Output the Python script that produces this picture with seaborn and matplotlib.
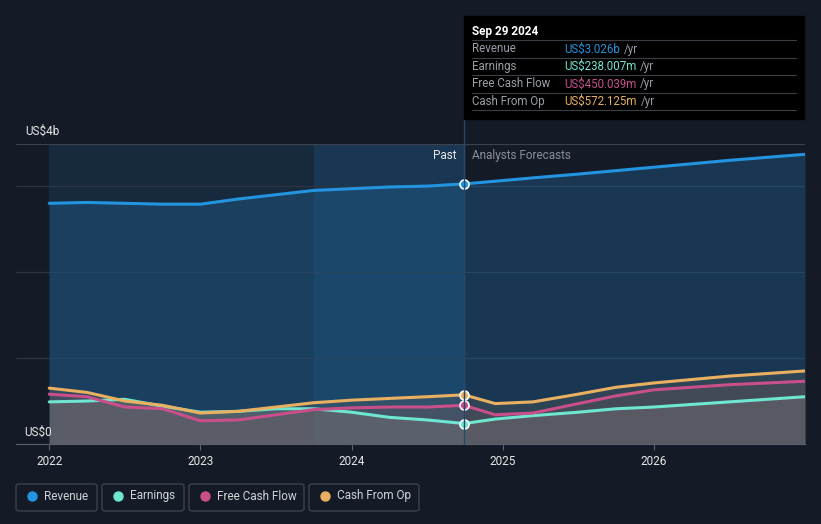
import numpy as np
import pandas as pd
import seaborn as sns
import matplotlib.pyplot as plt
from matplotlib.patches import FancyBboxPatch

# data (US$ billions)
past_x = [2022.0, 2022.25, 2022.5, 2022.75, 2023.0, 2023.25, 2023.5, 2023.75, 2024.0, 2024.25, 2024.5, 2024.745]
fc_x = [2024.745, 2024.95, 2025.2, 2025.5, 2025.75, 2026.0, 2026.5, 2027.0]

revenue_past = [2.80, 2.81, 2.80, 2.79, 2.79, 2.85, 2.90, 2.95, 2.97, 2.99, 3.00, 3.026]
earnings_past = [0.49, 0.50, 0.52, 0.44, 0.37, 0.38, 0.41, 0.41, 0.37, 0.31, 0.28, 0.238]
fcf_past = [0.58, 0.55, 0.43, 0.41, 0.27, 0.28, 0.34, 0.40, 0.42, 0.43, 0.43, 0.450]
cfo_past = [0.65, 0.60, 0.50, 0.45, 0.36, 0.38, 0.43, 0.48, 0.51, 0.53, 0.55, 0.572]

revenue_fc = [3.026, 3.057, 3.096, 3.14, 3.18, 3.22, 3.30, 3.37]
earnings_fc = [0.238, 0.29, 0.33, 0.37, 0.41, 0.43, 0.49, 0.55]
fcf_fc = [0.450, 0.34, 0.36, 0.47, 0.56, 0.63, 0.69, 0.73]
cfo_fc = [0.572, 0.47, 0.49, 0.58, 0.66, 0.71, 0.79, 0.85]

series = ["Revenue", "Earnings", "Free Cash Flow", "Cash From Op"]
colors = ["#2394df", "#6ee6d0", "#c94f8a", "#e8b060"]
tooltip_vals = ["US$3.026b", "US$238.007m", "US$450.039m", "US$572.125m"]
year_ticks = [2022, 2023, 2024, 2025, 2026]

bg = "#151b26"
rows = []
for name, p, f in zip(series, [revenue_past, earnings_past, fcf_past, cfo_past],
                      [revenue_fc, earnings_fc, fcf_fc, cfo_fc]):
    for x, v in zip(past_x + fc_x[1:], p + f[1:]):
        rows.append({"year": x, "value": v, "series": name})
df = pd.DataFrame(rows)

sns.set_style("dark")
plt.rcParams['font.family'] = ['Roboto', 'DejaVu Sans']
fig = plt.figure(figsize=(8.21, 5.24), dpi=100, facecolor=bg)
W, H = 821, 524
ax = fig.add_axes([16 / W, 80 / H, 789 / W, 300 / H])
ax.set_facecolor(bg)
x0, x1 = 2021.78, 2027.0
ymax = 3.49
ax.set_xlim(x0, x1)
ax.set_ylim(0, ymax)
cut = 2024.745

# past / highlight shading
ax.axvspan(2022.0, cut, color="#1a3550", alpha=0.55, lw=0, zorder=0)
ax.axvspan(2023.75, cut, color="#1c4a70", alpha=0.45, lw=0, zorder=0)
for g in [1, 2, 3]:
    ax.axhline(g, color="#2d3542", lw=0.9, zorder=1)
ax.axhline(ymax, color="#3a414d", lw=0.9, zorder=1)
ax.axvline(cut, color="#24486a", lw=1, zorder=1)

fills = {"Revenue": ("#1e5b8a", 0.45), "Earnings": ("#8a8a8a", 0.35),
         "Free Cash Flow": ("#7a5060", 0.25), "Cash From Op": ("#8a7a60", 0.2)}
for name, c in zip(series, colors):
    d = df[df.series == name]
    fc, a = fills[name]
    ax.fill_between(d.year, 0, d.value, color=fc, alpha=a, lw=0, zorder=2)

sns.lineplot(data=df, x="year", y="value", hue="series", palette=colors,
             hue_order=series, lw=2.2, legend=False, ax=ax, zorder=4)

for p, c in zip([revenue_past, earnings_past, fcf_past, cfo_past], colors):
    ax.scatter([cut], [p[-1]], s=42, color=c, edgecolor="white", linewidth=1.2, zorder=6)

ax.set_xticks(year_ticks)
ax.set_xticklabels([str(y) for y in year_ticks], color="#e6e6e6", fontsize=8.5)
ax.tick_params(axis="x", length=4, color="#5a6070", pad=4, bottom=True)
ax.set_yticks([])
ax.set_xlabel("")
ax.set_ylabel("")
for s in ["top", "right", "left"]:
    ax.spines[s].set_visible(False)
ax.spines["bottom"].set_color("#5a6070")
ax.spines["bottom"].set_visible(True)

fig.text(25 / W, 1 - 131 / H, "US$4b", color="#e6e6e6", fontsize=8.5, va="center")
fig.text(24 / W, 1 - 432 / H, "US$0", color="#e6e6e6", fontsize=8.5, va="center")
fig.text(456 / W, 1 - 156 / H, "Past", color="#e6e6e6", fontsize=8.5, ha="right", va="center")
fig.text(472 / W, 1 - 156 / H, "Analysts Forecasts", color="#8a8f99", fontsize=8.5, va="center")

# tooltip
fig.patches.append(plt.Rectangle((464 / W, 1 - 119 / H), 340 / W, 103 / H,
                                 transform=fig.transFigure, color="black", zorder=5))
fig.lines.append(plt.Line2D([464 / W, 464 / W], [1 - 444 / H, 1 - 119 / H],
                            transform=fig.transFigure, color="#24486a", lw=1))
fig.text(472 / W, 1 - 31 / H, "Sep 29 2024", color="white", fontsize=8.5,
         fontweight="bold", va="center", zorder=6)
for i, (name, c, v) in enumerate(zip(series, colors, tooltip_vals)):
    yy = 49 + i * 17.5
    fig.lines.append(plt.Line2D([472 / W, 796 / W], [1 - (yy - 9) / H] * 2,
                                transform=fig.transFigure, color="#3a3f47", lw=0.8, zorder=6))
    fig.text(472 / W, 1 - yy / H, name, color="#9a9ea6", fontsize=8.3, va="center", zorder=6)
    t = fig.text(564 / W, 1 - yy / H, v, color=c, fontsize=8.3, va="center", zorder=6)
    fig.canvas.draw()
    bb = t.get_window_extent()
    fig.text((bb.x1 + 4) / W, 1 - yy / H, "/yr", color="#9a9ea6", fontsize=8.3, va="center", zorder=6)
fig.lines.append(plt.Line2D([472 / W, 796 / W], [1 - 110 / H] * 2,
                            transform=fig.transFigure, color="#3a3f47", lw=0.8, zorder=6))

# legend boxes
boxes = [(16, 81), (102, 82), (189, 115), (309, 110)]
for (bx, bw), name, c in zip(boxes, series, colors):
    fig.patches.append(FancyBboxPatch((bx / W, 1 - 511 / H), bw / W, 27 / H,
                                      boxstyle="round,pad=0,rounding_size=0.004",
                                      transform=fig.transFigure, facecolor=bg,
                                      edgecolor="#3f4552", lw=0.9))
    fig.lines.append(plt.Line2D([(bx + 16) / W], [1 - 496 / H], marker="o", ms=6.5,
                                color=c, transform=fig.transFigure, lw=0))
    fig.text((bx + 28) / W, 1 - 496 / H, name, color="#d0d3d8", fontsize=8.5, va="center")

fig.savefig("out.png", dpi=100, facecolor=bg)
